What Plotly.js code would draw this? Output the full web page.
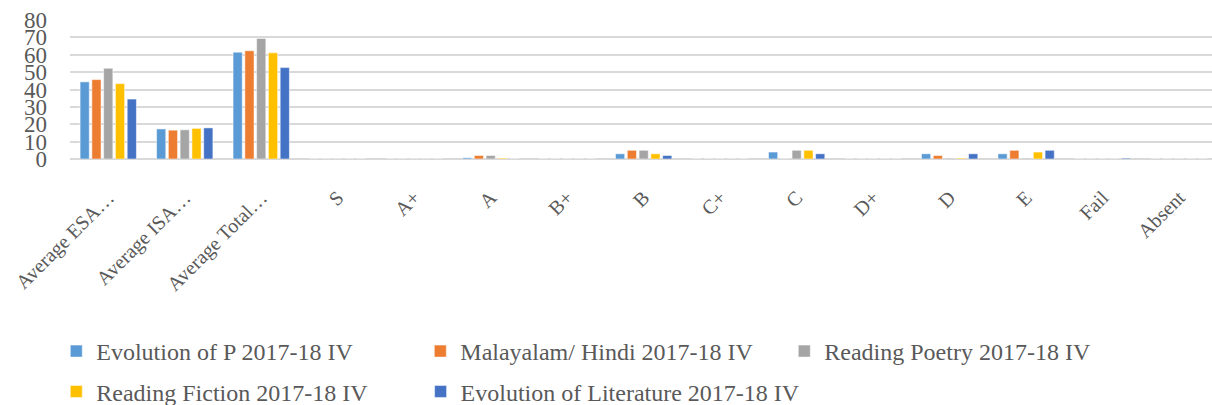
<!DOCTYPE html>
<html>
<head>
<meta charset="utf-8">
<script src="https://cdn.plot.ly/plotly-3.0.1.min.js"></script>
<style>html,body{margin:0;padding:0;background:#fff;}#chart{width:1212px;height:405px;}</style>
</head>
<body>
<div id="chart"></div>
<script>
const categories = ["Average ESA…", "Average ISA…", "Average Total…", "S", "A+", "A", "B+", "B", "C+", "C", "D+", "D", "E", "Fail", "Absent"];
const seriesNames = ["Evolution of P 2017-18 IV", "Malayalam/ Hindi 2017-18 IV", "Reading Poetry 2017-18 IV", "Reading Fiction 2017-18 IV", "Evolution of Literature 2017-18 IV"];
const evolutionP   = [44.4, 17.3, 61.5, 0, 0, 0.7, 0, 3, 0, 4, 0, 3, 3, 0, 0];
const malayalam    = [45.7, 16.6, 62.3, 0, 0, 2, 0, 5, 0, 0, 0, 2, 5, 0, 0];
const poetry       = [52.2, 16.8, 69.4, 0, 0, 2, 0, 5, 0, 5, 0, 0.5, 0.5, 0, 0];
const fiction      = [43.4, 17.6, 61.1, 0, 0, 0.5, 0, 3, 0, 5, 0, 0.5, 4, 0, 0];
const literature   = [34.5, 17.9, 52.6, 0, 0, 0, 0, 2, 0, 3, 0, 3, 5, 0.5, 0];
const seriesValues = [evolutionP, malayalam, poetry, fiction, literature];
const colors = ["#5B9BD5", "#ED7D31", "#A5A5A5", "#FFC000", "#4472C4"];
const legendSlots = ["legend", "legend", "legend", "legend2", "legend3"];
const yTicks = [0, 10, 20, 30, 40, 50, 60, 70, 80];

const FONT = "Liberation Serif";

const traces = seriesNames.map((n, i) => ({
  type: "bar",
  name: n,
  x: categories,
  y: seriesValues[i],
  legend: legendSlots[i],
  marker: {color: colors[i], line: {color: "#ffffff", width: 0.5}},
  hoverinfo: "x+y"
}));

function legendAt(x, y, w) {
  return {
    orientation: "h", xanchor: "left", yanchor: "middle", x: x, y: y,
    font: {family: FONT, size: 24, color: "#595959"},
    entrywidth: w, entrywidthmode: "pixels",
    itemwidth: 30, traceorder: "normal", bgcolor: "rgba(0,0,0,0)"
  };
}

const layout = {
  width: 1212, height: 405,
  margin: {l: 70, r: 0, t: 20, b: 246, autoexpand: false},
  paper_bgcolor: "#ffffff", plot_bgcolor: "#ffffff",
  barmode: "group", bargap: 0.23, bargroupgap: 0.22,
  font: {family: FONT, color: "#595959"},
  xaxis: {
    type: "category", range: [-0.5, 14.43], tickangle: -45,
    tickfont: {family: FONT, size: 20, color: "#595959"}, showgrid: false, zeroline: false,
    showline: false, ticks: "", ticklabelstandoff: 22, automargin: false
  },
  yaxis: {
    range: [0, 80], tickvals: yTicks, ticktext: yTicks.map(String),
    tickfont: {family: FONT, size: 23, color: "#595959"}, gridcolor: "#D9D9D9", gridwidth: 2,
    zeroline: true, zerolinecolor: "#D9D9D9", zerolinewidth: 2,
    showline: false, ticks: "", ticklabelstandoff: 22, automargin: false
  },
  legend: legendAt(-0.012, -1.385, 319),
  legend2: legendAt(-0.012, -1.675, 319),
  legend3: legendAt(0.307, -1.675, 400),
  showlegend: true
};

Plotly.newPlot("chart", traces, layout, {displayModeBar: false, staticPlot: true});
</script>
</body>
</html>
